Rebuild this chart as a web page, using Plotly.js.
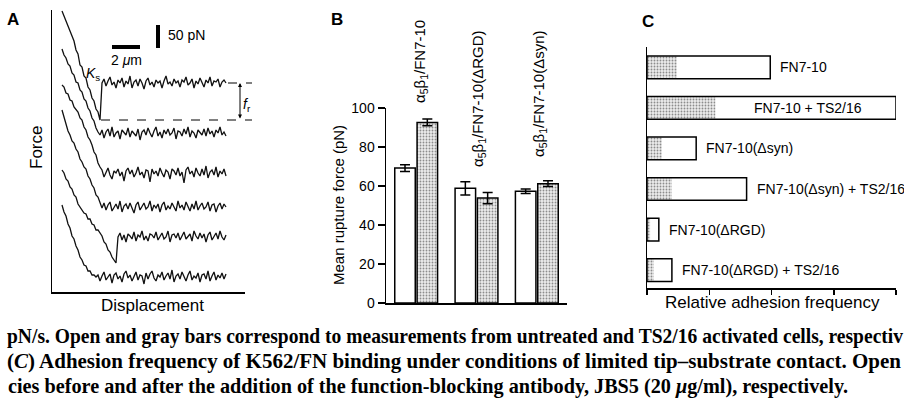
<!DOCTYPE html>
<html><head><meta charset="utf-8">
<script src="https://cdn.plot.ly/plotly-3.0.1.min.js"></script>
<style>html,body{margin:0;padding:0;background:#fff;} #chart{width:904px;height:403px;}</style>
</head><body><div id="chart"></div>
<script>
// ---------- Panel A: force-displacement traces (arbitrary units) ----------
const traceStart = 10, sampleStep = 2;
const force1 = [281,276,273,266,263,256,251,242,238,227,225,216,214,205,202,194,191,183,180,172,
  209,213,206,211,215,207,210,204,212,209,214,205,211,208,216,204,210,212,206,213,
  209,203,211,214,207,210,205,212,209,211,204,211,216,208,210,206,213,209,211,205,
  212,210,215,207,209,213,204,211,208,214,210,205,212,209,215,206,211,210,213,205,210,212,209];
const force2 = [243,237,234,228,226,219,217,210,209,202,200,193,191,184,181,174,171,164,160,
  157,162,154,160,163,156,165,155,159,161,153,162,160,157,164,155,161,159,156,163,
  152,160,162,157,164,159,155,161,165,156,160,154,162,158,163,157,159,164,153,161,
  160,156,163,158,165,155,161,159,154,162,160,157,163,156,164,158,161,155,162,159,165,157,160,156];
const force3 = [207,205,199,198,192,191,185,183,180,174,172,165,162,155,152,147,140,137,129,125,
  122,115,120,124,117,113,121,119,123,116,120,111,121,124,118,122,115,119,125,117,
  120,114,122,121,110,123,118,121,116,124,119,115,122,120,113,123,121,117,124,116,
  120,109,122,125,118,121,115,124,119,116,123,117,126,114,120,122,117,125,115,121,118,123,116];
const force4 = [182,175,169,161,157,151,149,143,140,133,130,125,123,116,113,107,104,97,95,89,
  84,89,82,87,90,81,85,88,83,91,80,86,88,83,89,84,79,87,90,82,
  86,89,83,85,91,81,87,84,88,80,87,90,82,86,83,89,85,81,91,84,
  87,82,90,86,81,88,83,91,82,86,89,83,85,90,81,87,88,80,86,89,83,88,85];
const force5 = [122,119,113,111,105,103,97,95,88,85,83,79,78,73,73,68,67,62,62,59,56,50,48,42,40,35,32,29,
  55,59,52,57,50,58,56,53,60,51,57,55,61,52,56,51,58,57,54,60,
  52,56,59,53,55,61,50,57,58,54,59,52,56,60,53,55,58,51,61,56,
  53,59,54,58,50,57,60,52,56,59,53,61,55,52,57];
const force6 = [87,80,76,68,64,56,53,46,42,35,32,27,26,21,21,17,17,15,
  17,11,16,20,12,15,18,9,17,19,13,16,10,18,21,14,17,11,15,20,
  12,17,16,8,19,13,18,21,14,11,17,15,20,12,16,19,13,22,10,16,
  18,13,20,15,11,17,21,12,16,14,19,10,17,18,13,21,11,16,20,12,17,14,19,13,18];
const forceTraces = [force1, force2, force3, force4, force5, force6];
const ruptureLevels = [209, 172];     // dashed reference levels of the top trace
const scaleBarDisp = [60, 88];         // 2 µm scale bar (displacement units)
const scaleBarForce = [244, 267];      // 50 pN scale bar (force units)

// ---------- Panel B: mean rupture force ----------
const groupsB = ['α<sub>5</sub>β<sub>1</sub>/FN7-10', 'α<sub>5</sub>β<sub>1</sub>/FN7-10(ΔRGD)', 'α<sub>5</sub>β<sub>1</sub>/FN7-10(Δsyn)'];
const untreated = [69.2, 58.8, 57.3];
const untreatedErr = [1.7, 3.4, 1.2];
const activated = [92.6, 53.8, 61.2];
const activatedErr = [1.7, 2.9, 1.5];
const ticksB = [0, 20, 40, 60, 80, 100];

// ---------- Panel C: relative adhesion frequency ----------
const conditionsC = ['FN7-10', 'FN7-10 + TS2/16', 'FN7-10(Δsyn)', 'FN7-10(Δsyn) + TS2/16', 'FN7-10(ΔRGD)', 'FN7-10(ΔRGD) + TS2/16'];
const freqBefore = [0.198, 0.400, 0.079, 0.160, 0.019, 0.040];
const freqAfter  = [0.048, 0.110, 0.024, 0.040, 0.005, 0.011];
const ticksC = [0, 0.1, 0.2, 0.3, 0.4];

// ---------- Caption ----------
const captionLines = [
  '<b>pN/s. Open and gray bars correspond to measurements from untreated and TS2/16 activated cells, respectiv</b>',
  '<b>(<i>C</i>) Adhesion frequency of K562/FN binding under conditions of limited tip–substrate contact. Open</b>',
  '<b>cies before and after the addition of the function-blocking antibody, JBS5 (20 <i>μ</i>g/ml), respectively.</b>'
];

// ---------- helpers (layout positions in pixels of the 904x403 canvas) ----------
const W = 904, H = 403;
const px = v => v / W;
const py = v => 1 - v / H;
const SANS = 'Liberation Sans, Arial, sans-serif';
const SERIF = 'Liberation Serif, Times New Roman, serif';

const data = [];
forceTraces.forEach(f => data.push({
  type: 'scatter', mode: 'lines', x0: traceStart, dx: sampleStep, y: f,
  xaxis: 'x', yaxis: 'y', line: {color: '#111', width: 1.3}, hoverinfo: 'skip'
}));

const grayFill = {shape: '.', fillmode: 'replace', bgcolor: '#ececec', fgcolor: '#8c8c8c', size: 3, solidity: 0.3};
const xB = groupsB.map((_, i) => i);
data.push({
  type: 'bar', x: xB, y: untreated, xaxis: 'x2', yaxis: 'y2', width: 0.34, offset: -0.355,
  marker: {color: '#ffffff', line: {color: '#000', width: 1.5}},
  error_y: {type: 'data', array: untreatedErr, color: '#000', thickness: 1.5, width: 5}
});
data.push({
  type: 'bar', x: xB, y: activated, xaxis: 'x2', yaxis: 'y2', width: 0.34, offset: 0.015,
  marker: {color: '#dedede', pattern: grayFill, line: {color: '#000', width: 1.5}},
  error_y: {type: 'data', array: activatedErr, color: '#000', thickness: 1.5, width: 5}
});

const yC = conditionsC.map((_, i) => i);
data.push({
  type: 'bar', orientation: 'h', x: freqAfter, y: yC, xaxis: 'x3', yaxis: 'y3', width: 0.56, offset: -0.28,
  marker: {color: '#dedede', pattern: grayFill, line: {width: 0}}
});
data.push({
  type: 'bar', orientation: 'h', x: freqBefore, y: yC, xaxis: 'x3', yaxis: 'y3', width: 0.56, offset: -0.28,
  marker: {color: 'rgba(0,0,0,0)', line: {color: '#000', width: 1.5}}
});

const axLine = {showline: true, linecolor: '#000', linewidth: 1.5, showgrid: false, zeroline: false, fixedrange: true};
const layout = {
  width: W, height: H, margin: {l: 0, r: 0, t: 0, b: 0},
  paper_bgcolor: '#fff', plot_bgcolor: 'rgba(0,0,0,0)', showlegend: false, barmode: 'overlay',
  font: {family: SANS, color: '#000', size: 14},
  xaxis: Object.assign({}, axLine, {domain: [px(52), px(245)], range: [0, 193], anchor: 'y', showticklabels: false, ticks: ''}),
  yaxis: Object.assign({}, axLine, {domain: [py(292), py(10)], range: [0, 282], anchor: 'x', showticklabels: false, ticks: ''}),
  xaxis2: Object.assign({}, axLine, {domain: [px(386), px(567)], range: [-0.5, 2.5], anchor: 'y2', showticklabels: false, ticks: ''}),
  yaxis2: Object.assign({}, axLine, {domain: [py(303), py(108)], range: [0, 100], anchor: 'x2',
    tickvals: ticksB, ticks: 'outside', ticklen: 7, tickwidth: 1.5, tickcolor: '#000',
    tickfont: {family: SANS, size: 14, color: '#000'}}),
  xaxis3: Object.assign({}, axLine, {domain: [px(647), px(896)], range: [0, 0.4], anchor: 'y3',
    tickvals: ticksC, ticks: 'outside', ticklen: 5, tickwidth: 1.5, tickcolor: '#000', showticklabels: false}),
  yaxis3: Object.assign({}, axLine, {domain: [py(288), py(47)], range: [5.44, -0.5], anchor: 'x3', showticklabels: false, ticks: ''}),
  shapes: [
    {type: 'line', xref: 'x', yref: 'y', x0: scaleBarDisp[0], x1: scaleBarDisp[1], y0: 245, y1: 245, line: {color: '#000', width: 4}},
    {type: 'line', xref: 'x', yref: 'y', x0: 106, x1: 106, y0: scaleBarForce[0], y1: scaleBarForce[1], line: {color: '#000', width: 4}},
    {type: 'line', xref: 'paper', yref: 'y', x0: px(228), x1: px(252), y0: ruptureLevels[0], y1: ruptureLevels[0], line: {color: '#000', width: 1, dash: 'dash'}},
    {type: 'line', xref: 'paper', yref: 'y', x0: px(101), x1: px(252), y0: ruptureLevels[1], y1: ruptureLevels[1], line: {color: '#000', width: 1, dash: 'dash'}}
  ],
  annotations: []
};

const A = layout.annotations;
const txt = (text, x, y, opts) => A.push(Object.assign({text, x: px(x), y: py(y), xref: 'paper', yref: 'paper',
  showarrow: false, xanchor: 'center', yanchor: 'middle', font: {family: SANS, size: 14, color: '#000'}}, opts || {}));

// panel letters
txt('<b>A</b>', 13, 19, {font: {family: SANS, size: 17, color: '#000'}});
txt('<b>B</b>', 337, 19, {font: {family: SANS, size: 17, color: '#000'}});
txt('<b>C</b>', 648, 21, {font: {family: SANS, size: 17, color: '#000'}});
// panel A texts
txt('Force', 36, 148, {textangle: -90, font: {family: SANS, size: 17, color: '#000'}});
txt('Displacement', 152, 305, {font: {family: SANS, size: 17, color: '#000'}});
txt('<i>K</i><sub>s</sub>', 93, 74, {font: {family: SANS, size: 14, color: '#000'}});
txt('<i>f</i><sub>r</sub>', 247, 105, {font: {family: SANS, size: 14, color: '#000'}});
txt('2 <i>μ</i>m', 126, 60, {font: {family: SANS, size: 14, color: '#000'}});
txt('50 pN', 166, 35, {xanchor: 'left', font: {family: SANS, size: 14, color: '#000'}});
// double arrow for rupture force
A.push({xref: 'paper', yref: 'y', x: px(240), y: ruptureLevels[0], axref: 'pixel', ayref: 'y', ax: 0, ay: ruptureLevels[1],
  text: '', showarrow: true, arrowside: 'end+start', arrowhead: 2, startarrowhead: 2, arrowsize: 0.8, startarrowsize: 0.8,
  arrowwidth: 1, arrowcolor: '#000'});
// panel B texts
txt('Mean rupture force (pN)', 338, 205, {textangle: -90, font: {family: SANS, size: 15, color: '#000'}});
const labelBCenters = [[420, 62], [478, 99], [540, 94]];
groupsB.forEach((g, i) => txt(g, labelBCenters[i][0], labelBCenters[i][1], {textangle: -90, font: {family: SANS, size: 15, color: '#000'}}));
// panel C texts
txt('Relative adhesion frequency', 772, 302, {font: {family: SANS, size: 17, color: '#000'}});
conditionsC.forEach((c, i) => {
  const inside = freqBefore[i] === Math.max(...freqBefore);
  A.push({xref: 'x3', yref: 'y3', x: inside ? freqAfter[i] : freqBefore[i], y: i, text: c, showarrow: false,
    xanchor: 'left', yanchor: 'middle', xshift: inside ? 37 : 8, font: {family: SANS, size: 14, color: '#000'}});
});
// caption
const captionFirst = A.length;
const captionY = [336, 361, 386];
const captionLeft = [7, 7, 8];
const captionLen = [896, 894, 840];
captionLines.forEach((c, i) => txt(c, 452, captionY[i], {xanchor: 'center', align: 'left',
  font: {family: SERIF, size: 21, color: '#000'}}));

Plotly.newPlot('chart', data, layout, {staticPlot: true, displayModeBar: false}).then(gd => {
  const root = gd.getBoundingClientRect();
  captionLines.forEach((_, i) => {
    const t = gd.querySelector('g.annotation[data-index="' + (captionFirst + i) + '"] text.annotation-text');
    if (!t) return;
    t.setAttribute('textLength', captionLen[i]);
    t.setAttribute('lengthAdjust', 'spacingAndGlyphs');
    const bb = t.getBoundingClientRect();
    const shift = (root.left + captionLeft[i]) - bb.left;
    t.setAttribute('transform', 'translate(' + shift + ',0)');
  });
});
</script>
</body></html>
